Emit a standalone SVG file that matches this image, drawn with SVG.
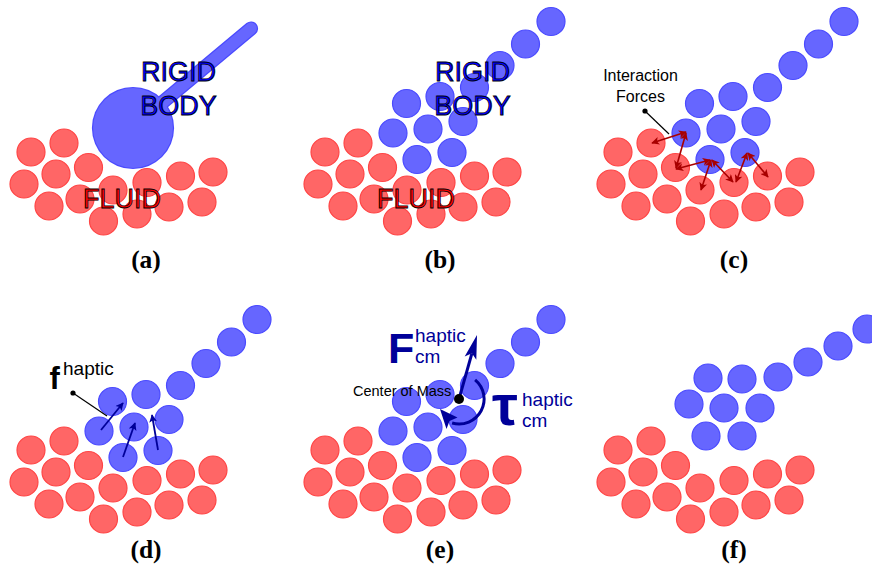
<svg xmlns="http://www.w3.org/2000/svg" xmlns:xlink="http://www.w3.org/1999/xlink" width="872" height="570" viewBox="0 0 872 570">
  <style>
    .red { fill: #ff6666; stroke: #ff4545; stroke-width: 1.2; }
    .blue { fill: #6666ff; stroke: #4a4aff; stroke-width: 1.2; }
    .big { font-family: "Liberation Sans", Arial, sans-serif; font-size: 27px; stroke: #000; stroke-width: 0.8; text-anchor: middle; }
    .cap { font-family: "Liberation Serif", "Times New Roman", serif; font-weight: bold; font-size: 25.5px; text-anchor: middle; fill: #000; }
    .note { font-family: "Liberation Sans", Arial, sans-serif; fill: #000; }
    .sym { font-family: "Liberation Sans", Arial, sans-serif; }
    .force { stroke: #a80000; stroke-width: 1.6; fill: none; marker-start: url(#redHead); marker-end: url(#redHead); }
    .push { stroke: #000099; stroke-width: 1.8; fill: none; marker-end: url(#navyHead); }
    .lead { stroke: #000; stroke-width: 1.2; fill: none; }
  </style>
  <defs>
    <marker id="redHead" viewBox="0 0 10 10" refX="9" refY="5" markerWidth="9" markerHeight="8" markerUnits="userSpaceOnUse" orient="auto-start-reverse">
      <path d="M0,0 L10,5 L0,10 L2.5,5 Z" fill="#a80000"/>
    </marker>
    <marker id="navyHead" viewBox="0 0 10 10" refX="9" refY="5" markerWidth="10" markerHeight="8" markerUnits="userSpaceOnUse" orient="auto">
      <path d="M0,0 L10,5 L0,10 L2.5,5 Z" fill="#000099"/>
    </marker>

    <!-- fluid particle cluster, local coordinates -->
    <g id="fluid">
      <circle class="red" cx="31" cy="152" r="14"/>
      <circle class="red" cx="64" cy="143" r="14"/>
      <circle class="red" cx="24" cy="184" r="14"/>
      <circle class="red" cx="56" cy="174" r="14"/>
      <circle class="red" cx="88.5" cy="167.5" r="14"/>
      <circle class="red" cx="49" cy="206" r="14"/>
      <circle class="red" cx="80" cy="199" r="14"/>
      <circle class="red" cx="113" cy="190" r="14"/>
      <circle class="red" cx="103.5" cy="221" r="14"/>
      <circle class="red" cx="147" cy="182.5" r="14"/>
      <circle class="red" cx="137" cy="214" r="14"/>
      <circle class="red" cx="180.5" cy="176" r="14"/>
      <circle class="red" cx="169" cy="207" r="14"/>
      <circle class="red" cx="213" cy="172" r="14"/>
      <circle class="red" cx="202" cy="202" r="14"/>
    </g>

    <!-- rigid body sampled as particles, local coordinates -->
    <g id="body">
      <circle class="blue" cx="257" cy="21.5" r="14"/>
      <circle class="blue" cx="231.5" cy="44" r="14"/>
      <circle class="blue" cx="206" cy="65.5" r="14"/>
      <circle class="blue" cx="180.5" cy="87.5" r="14"/>
      <circle class="blue" cx="146" cy="96.5" r="14"/>
      <circle class="blue" cx="112.5" cy="103.5" r="14"/>
      <circle class="blue" cx="169" cy="121.5" r="14"/>
      <circle class="blue" cx="134" cy="129" r="14"/>
      <circle class="blue" cx="99" cy="133" r="14"/>
      <circle class="blue" cx="158" cy="152.5" r="14"/>
      <circle class="blue" cx="123" cy="159.5" r="14"/>
    </g>
  </defs>

  <!-- (a) continuous rigid body above the fluid -->
  <g id="panel-a">
    <use href="#fluid"/>
    <g id="rigid-body-a">
      <line x1="133" y1="127" x2="251" y2="28.5" stroke="#4a4aff" stroke-width="14.2" stroke-linecap="round"/>
      <circle cx="133" cy="128" r="41.1" fill="#4a4aff"/>
      <line x1="133" y1="127" x2="251" y2="28.5" stroke="#6666ff" stroke-width="11.8" stroke-linecap="round"/>
      <circle cx="133" cy="128" r="39.9" fill="#6666ff"/>
    </g>
    <text class="big" x="178.5" y="81" fill="#0000ff">RIGID</text>
    <text class="big" x="178.5" y="115" fill="#0000ff">BODY</text>
    <text class="big" x="122" y="208" fill="#ff0000">FLUID</text>
    <text class="cap" x="146" y="268">(a)</text>
  </g>

  <!-- (b) rigid body represented by particles -->
  <g id="panel-b">
    <use href="#fluid" x="294"/>
    <use href="#body" x="294"/>
    <text class="big" x="472.5" y="81" fill="#0000ff">RIGID</text>
    <text class="big" x="472.5" y="115" fill="#0000ff">BODY</text>
    <text class="big" x="416" y="208" fill="#ff0000">FLUID</text>
    <text class="cap" x="440" y="268">(b)</text>
  </g>

  <!-- (c) pairwise interaction forces -->
  <g id="panel-c">
    <use href="#fluid" x="587"/>
    <use href="#body" x="587"/>
    <g id="interaction-arrows">
      <line class="force" x1="652" y1="143" x2="686" y2="132"/>
      <line class="force" x1="686" y1="133" x2="676" y2="168"/>
      <line class="force" x1="676" y1="169" x2="710" y2="160"/>
      <line class="force" x1="711" y1="160" x2="701" y2="190"/>
      <line class="force" x1="712" y1="160" x2="733" y2="182"/>
      <line class="force" x1="747" y1="153" x2="736" y2="182"/>
      <line class="force" x1="748" y1="153" x2="768" y2="177"/>
    </g>
    <g id="label-interaction">
      <line class="lead" x1="645" y1="111" x2="669" y2="134"/>
      <circle cx="645" cy="111" r="2.6" fill="#000"/>
      <text class="note" x="640.5" y="81" font-size="16" text-anchor="middle">Interaction</text>
      <text class="note" x="640.5" y="101.5" font-size="16" text-anchor="middle">Forces</text>
    </g>
    <text class="cap" x="734" y="268">(c)</text>
  </g>

  <!-- (d) haptic force on each body particle -->
  <g id="panel-d">
    <use href="#fluid" y="298"/>
    <use href="#body" x="0" y="298"/>
    <g id="particle-forces">
      <line class="push" x1="101" y1="430" x2="123" y2="403"/>
      <line class="push" x1="123" y1="457" x2="135" y2="423"/>
      <line class="push" x1="158" y1="450" x2="152" y2="415"/>
    </g>
    <g id="label-f">
      <line class="lead" x1="73" y1="393" x2="107" y2="416"/>
      <circle cx="73" cy="393" r="2.6" fill="#000"/>
      <text class="sym" x="49.5" y="388.5" font-size="31" font-weight="bold" fill="#000">f</text>
      <text class="sym" x="63" y="375" font-size="19" fill="#000">haptic</text>
    </g>
    <text class="cap" x="146" y="558">(d)</text>
  </g>

  <!-- (e) net force and torque about the centre of mass -->
  <g id="panel-e">
    <use href="#fluid" x="294" y="298"/>
    <use href="#body" x="294" y="298"/>
    <text class="note" x="353" y="396" font-size="14.5">Center of Mass</text>
    <g id="net-force">
      <line x1="459" y1="399" x2="471.9" y2="353.3" stroke="#000099" stroke-width="3"/>
      <path d="M477,335 L476.3,359.7 L471.9,353.3 L464.7,356.5 Z" fill="#000099"/>
    </g>
    <g id="net-torque">
      <path d="M475.1,379.8 A25,25 0 0 1 452.1,423" fill="none" stroke="#000099" stroke-width="3"/>
      <path d="M440,409 L446.5,429 L449.5,421 L457.5,417.5 Z" fill="#000099"/>
    </g>
    <circle cx="459" cy="399" r="5" fill="#000"/>
    <g id="label-F" fill="#000099">
      <text class="sym" x="388" y="363" font-size="43" font-weight="bold">F</text>
      <text class="sym" x="415" y="342" font-size="19">haptic</text>
      <text class="sym" x="415" y="363" font-size="19">cm</text>
    </g>
    <g id="label-tau" fill="#000099">
      <text class="sym" x="492" y="425" font-size="58" font-weight="bold">τ</text>
      <text class="sym" x="522" y="406" font-size="19">haptic</text>
      <text class="sym" x="522" y="427" font-size="19">cm</text>
    </g>
    <text class="cap" x="440" y="558">(e)</text>
  </g>

  <!-- (f) body after the update -->
  <g id="panel-f">
    <use href="#fluid" x="587" y="298"/>
    <g id="body-moved" transform="translate(587,298)">
      <circle class="blue" cx="280" cy="31" r="14"/>
      <circle class="blue" cx="251" cy="48" r="14"/>
      <circle class="blue" cx="221" cy="64" r="14"/>
      <circle class="blue" cx="191" cy="79" r="14"/>
      <circle class="blue" cx="155" cy="81" r="14"/>
      <circle class="blue" cx="121" cy="80" r="14"/>
      <circle class="blue" cx="173" cy="110" r="14"/>
      <circle class="blue" cx="137" cy="110" r="14"/>
      <circle class="blue" cx="102" cy="106" r="14"/>
      <circle class="blue" cx="155" cy="138" r="14"/>
      <circle class="blue" cx="119" cy="138" r="14"/>
    </g>
    <text class="cap" x="734" y="558">(f)</text>
  </g>
</svg>
